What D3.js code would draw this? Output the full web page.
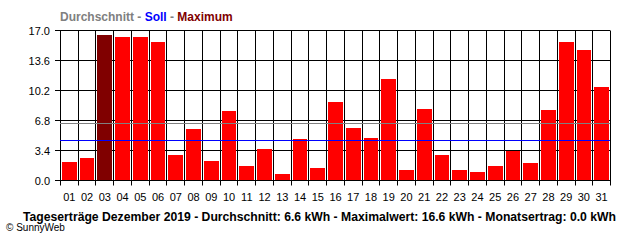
<!DOCTYPE html>
<html>
<head lang="de">
  <meta charset="UTF-8">
  <title>Tageserträge Dezember 2019</title>
  <script src="https://cdn.jsdelivr.net/npm/d3@7/dist/d3.min.js"></script>
  <style>
    body { margin: 0; background: #fff; }
    svg { display: block; }
    text { font-family: "Liberation Sans", Arial, sans-serif; }
  </style>
</head>
<body>
<script>
  // Tage und Tageserträge in kWh
  var days = ['01','02','03','04','05','06','07','08','09','10','11','12','13','14','15','16',
              '17','18','19','20','21','22','23','24','25','26','27','28','29','30','31'];
  var values = [2.15, 2.5, 16.5, 16.3, 16.3, 15.7, 2.85, 5.8, 2.2, 7.85, 1.6, 3.55, 0.7, 4.7, 1.4, 8.9,
                5.95, 4.8, 11.5, 1.15, 8.1, 2.85, 1.15, 0.95, 1.6, 3.3, 1.95, 8.0, 15.7, 14.75, 10.6];
  var yTicks = [0, 3.4, 6.8, 10.2, 13.6, 17.0];
  var durchschnitt = 6.5;
  var soll = 4.55;
  var caption = 'Tageserträge Dezember 2019 - Durchschnitt: 6.6 kWh - Maximalwert: 16.6 kWh - Monatsertrag: 0.0 kWh';

  var W = 640, H = 240;
  // note: "top" is taken by window.top, so plot edges get their own names
  var plotL = 60, plotR = 610, plotT = 30.5, plotB = 180.5;

  var svg = d3.select('body').append('svg')
      .attr('width', W)
      .attr('height', H);

  var x = d3.scaleBand().domain(days).range([plotL, plotR]).padding(0);
  var y = d3.scaleLinear().domain([0, 17]).range([plotB, plotT]);

  var maxVal = d3.max(values);

  // horizontal grid lines + ticks
  svg.selectAll('line.h').data(yTicks).enter().append('line')
      .attr('x1', plotL - 5).attr('x2', plotR)
      .attr('y1', function (d) { return Math.round(y(d) - 0.5) + 0.5; })
      .attr('y2', function (d) { return Math.round(y(d) - 0.5) + 0.5; })
      .attr('stroke', '#000').attr('stroke-width', 1);

  // vertical grid lines (column borders)
  var borders = days.map(function (d) { return x(d); }).concat([plotR]);
  svg.selectAll('line.v').data(borders).enter().append('line')
      .attr('x1', function (d) { return Math.round(d) + 0.5; })
      .attr('x2', function (d) { return Math.round(d) + 0.5; })
      .attr('y1', plotT).attr('y2', plotB + 5)
      .attr('stroke', '#000').attr('stroke-width', 1);

  // bars
  svg.selectAll('rect.bar').data(values).enter().append('rect')
      .attr('x', function (d, i) { return Math.round(x(days[i])) + 2; })
      .attr('width', function (d, i) {
        var a = Math.round(x(days[i])), b = Math.round(x(days[i]) + x.bandwidth());
        return b - a - 3;
      })
      .attr('y', function (d) { return Math.round(y(d)); })
      .attr('height', function (d) { return plotB - 0.5 - Math.round(y(d)); })
      .attr('fill', function (d) { return d === maxVal ? '#800000' : '#ff0000'; });

  // Durchschnitt / Soll lines
  svg.append('line')
      .attr('x1', plotL).attr('x2', plotR)
      .attr('y1', Math.round(y(durchschnitt)) + 0.5).attr('y2', Math.round(y(durchschnitt)) + 0.5)
      .attr('stroke', '#808080').attr('stroke-width', 1);
  svg.append('line')
      .attr('x1', plotL).attr('x2', plotR)
      .attr('y1', Math.round(y(soll)) + 0.5).attr('y2', Math.round(y(soll)) + 0.5)
      .attr('stroke', '#0000ff').attr('stroke-width', 1);

  // y labels
  svg.selectAll('text.yl').data(yTicks).enter().append('text')
      .attr('x', 50).attr('y', function (d) { return y(d) + 4; })
      .attr('text-anchor', 'end')
      .attr('font-size', 11)
      .text(function (d) { return d.toFixed(1); });

  // x labels
  svg.selectAll('text.xl').data(days).enter().append('text')
      .attr('x', function (d) { return x(d) + x.bandwidth() / 2 + 0.5; })
      .attr('y', 201)
      .attr('text-anchor', 'middle')
      .attr('font-size', 11)
      .text(function (d) { return d; });

  // legend title
  var t = svg.append('text')
      .attr('x', 60).attr('y', 20.5)
      .attr('font-size', 12).attr('font-weight', 'bold');
  t.append('tspan').attr('fill', '#808080').text('Durchschnitt - ');
  t.append('tspan').attr('fill', '#0000ff').text('Soll');
  t.append('tspan').attr('fill', '#808080').text(' - ');
  t.append('tspan').attr('fill', '#800000').text('Maximum');

  // caption
  svg.append('text')
      .attr('x', 23).attr('y', 220.5)
      .attr('font-size', 12).attr('font-weight', 'bold')
      .attr('textLength', 593).attr('lengthAdjust', 'spacingAndGlyphs')
      .text(caption);

  svg.append('text')
      .attr('x', 6).attr('y', 231)
      .attr('font-size', 10)
      .text('© SunnyWeb');
</script>
</body>
</html>
